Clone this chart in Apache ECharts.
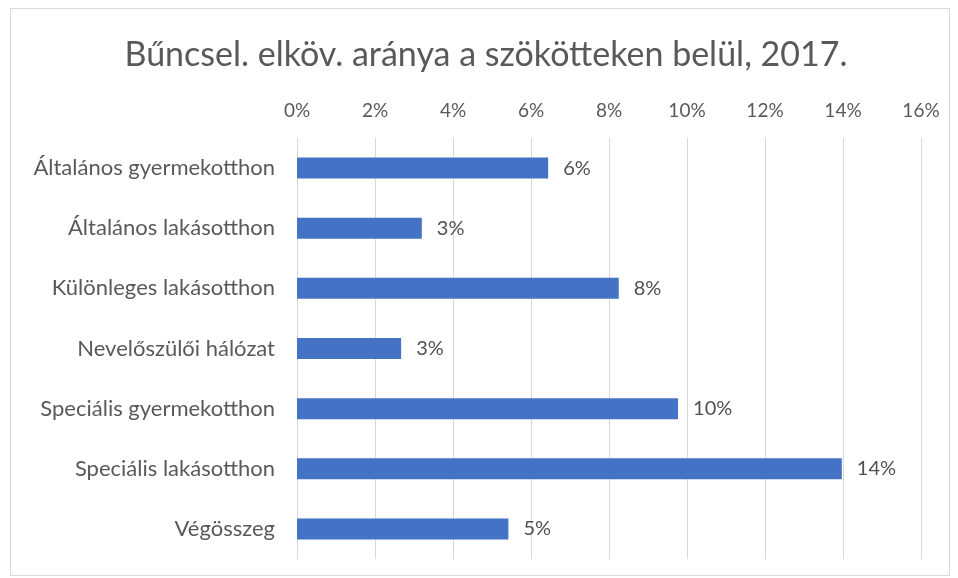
<!DOCTYPE html>
<html>
<head>
<meta charset="utf-8">
<script src="https://cdn.jsdelivr.net/npm/echarts@6/dist/echarts.min.js"></script>
<style>
html,body{margin:0;padding:0;background:#fff;}
#chart{width:958px;height:578px;}
</style>
</head>
<body>
<div id="chart"></div>
<script>
const titleText = 'Bűncsel. elköv. aránya a szökötteken belül, 2017.';
const categories = [
  'Általános gyermekotthon',
  'Általános lakásotthon',
  'Különleges lakásotthon',
  'Nevelőszülői hálózat',
  'Speciális gyermekotthon',
  'Speciális lakásotthon',
  'Végösszeg'
];
const values = [6.44, 3.2, 8.25, 2.67, 9.77, 13.97, 5.42];
const axisMin = 0, axisMax = 16, axisStep = 2;

const font = 'Lato, "Open Sans", sans-serif';
const chart = echarts.init(document.getElementById('chart'), null, {renderer: 'canvas'});
chart.setOption({
  backgroundColor: '#fff',
  animation: false,
  title: {
    text: titleText,
    left: 481,
    textAlign: 'center',
    top: 33,
    textStyle: {fontFamily: font, fontSize: 34, fontWeight: 'normal', color: '#595959'}
  },
  graphic: [{
    type: 'rect',
    shape: {x: 10.5, y: 8.5, width: 939, height: 567},
    style: {fill: 'none', stroke: '#d9d9d9', lineWidth: 1},
    silent: true
  }],
  grid: {left: 297, right: 37, top: 138, bottom: 19, containLabel: false},
  xAxis: {
    type: 'value',
    position: 'top',
    min: axisMin, max: axisMax, interval: axisStep,
    axisLine: {show: false},
    axisTick: {show: false},
    axisLabel: {formatter: '{value}%', fontFamily: font, fontSize: 19, color: '#595959', margin: 18},
    splitLine: {lineStyle: {color: '#d9d9d9', width: 1}}
  },
  yAxis: {
    type: 'category',
    data: categories,
    inverse: true,
    axisLine: {show: false},
    axisTick: {show: false},
    axisLabel: {fontFamily: font, fontSize: 22, color: '#595959', margin: 22}
  },
  series: [{
    type: 'bar',
    data: values,
    barWidth: 21,
    itemStyle: {color: '#4472c4'},
    label: {
      show: true,
      position: 'right',
      distance: 15,
      formatter: p => Math.round(p.value) + '%',
      fontFamily: font, fontSize: 20, color: '#505050'
    }
  }]
});
</script>
</body>
</html>
